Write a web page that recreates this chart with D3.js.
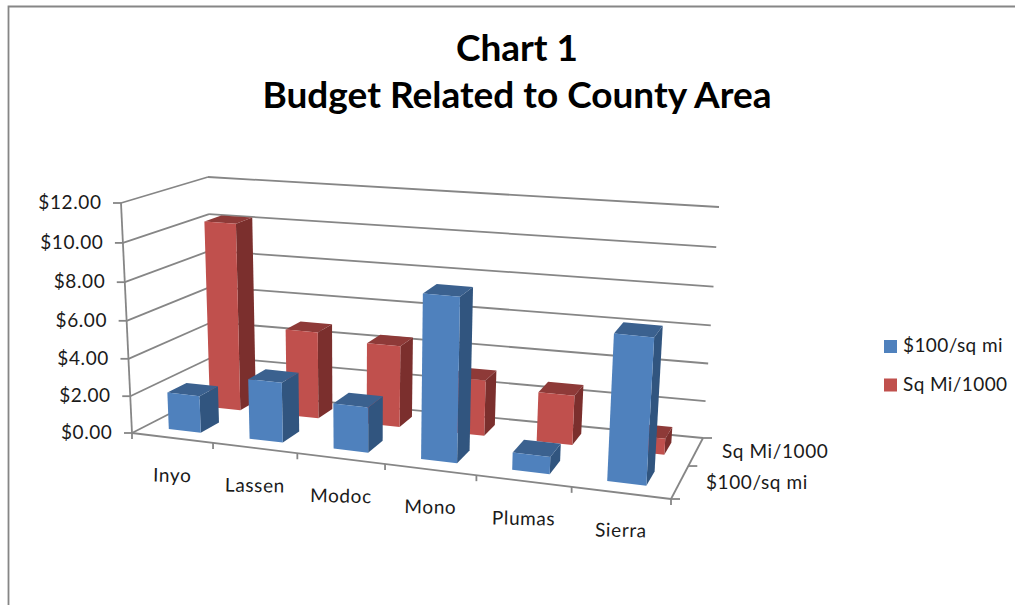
<!DOCTYPE html>
<html>
<head>
<meta charset="utf-8">
<style>
  html, body { margin: 0; padding: 0; background: #fff; }
  svg { display: block; }
  text { fill: #1a1a1a; }
</style>
<script src="https://cdn.jsdelivr.net/npm/d3@7/dist/d3.min.js"></script>
</head>
<body>
<svg id="chart" width="1015" height="605"></svg>
<script>
// County figures
const counties = ["Inyo", "Lassen", "Modoc", "Mono", "Plumas", "Sierra"];
const seriesNames = ["$100/sq mi", "Sq Mi/1000"];
const dollarsPerSqMi = [2.0, 3.2, 2.4, 8.5, 0.9, 7.4];
const sqMiThousands = [10.2, 4.75, 4.4, 3.0, 2.65, 0.85];
const valueTicks = [0, 2, 4, 6, 8, 10, 12];
const titleLines = ["Chart 1", "Budget Related to County Area"];

const seriesValues = [dollarsPerSqMi, sqMiThousands];
const faceColors = [
  { front: "#4f81bd", side: "#31557f", top: "#3b618f" },
  { front: "#c0504d", side: "#7b2f2d", top: "#8e3a38" }
];
const axisColor = "#868686";
const svg = d3.select("#chart");

// Unit-cube scales: x runs along the categories, y up the values, z from front to back.
const xBand = d3.scaleBand().domain(counties).range([0, 1]).paddingInner(0.6).paddingOuter(0.3);
const xCell = d3.scaleBand().domain(counties).range([0, 1]);
const zBand = d3.scaleBand().domain(seriesNames).range([0, 1]).paddingInner(0.56).paddingOuter(0.28);
const zCell = d3.scaleBand().domain(seriesNames).range([0, 1]);
const yValue = d3.scaleLinear().domain([0, 12]).range([0, 1]);

// Screen position of the eight corners of the plot box.
const box = {
  frontLeft:  { low: [132, 433], high: [121, 203] },
  backLeft:   { low: [214, 391], high: [208, 177] },
  backRight:  { low: [703, 438], high: [719, 207] },
  frontRight: { low: [671, 499], high: [685, 250] }
};
// Perspective foreshortening along each axis of the box.
const warp = (t, w) => t / (t + w * (1 - t));
const mix = (a, b, t) => [a[0] + (b[0] - a[0]) * t, a[1] + (b[1] - a[1]) * t];

function project(x, y, z) {
  const u = warp(x, 1.13), v = warp(z, 0.85), h = warp(y, 1.05);
  const low = mix(mix(box.frontLeft.low, box.frontRight.low, u), mix(box.backLeft.low, box.backRight.low, u), v);
  const high = mix(mix(box.frontLeft.high, box.frontRight.high, u), mix(box.backLeft.high, box.backRight.high, u), v);
  return mix(low, high, h);
}
const pathOf = pts => "M" + pts.map(p => p.map(n => n.toFixed(2)).join(",")).join("L") + "Z";
const lineOf = (a, b) => ({ x1: a[0], y1: a[1], x2: b[0], y2: b[1] });
function drawLines(group, data) {
  group.selectAll("line").data(data).join("line")
    .attr("x1", d => d.x1).attr("y1", d => d.y1)
    .attr("x2", d => d.x2).attr("y2", d => d.y2)
    .attr("stroke", axisColor).attr("stroke-width", 1.8);
}

// Page edge rules
svg.append("path").attr("d", "M8.5,605V6.5H1015").attr("fill", "none")
  .attr("stroke", "#868686").attr("stroke-width", 1.8);

// Title
svg.append("g").attr("font-family", "Lato, sans-serif").attr("font-weight", 700).attr("font-size", 37)
  .selectAll("text").data(titleLines).join("text")
  .attr("x", 517).attr("y", (d, i) => 61 + i * 47)
  .attr("text-anchor", "middle").style("fill", "#000").text(d => d);

// Gridlines on the side wall and back wall, plus the value axis with its ticks.
const grid = svg.append("g");
const gridLines = [];
valueTicks.forEach(v => {
  const yv = yValue(v);
  gridLines.push(lineOf(project(0, yv, 0), project(0, yv, 1)));
  gridLines.push(lineOf(project(0, yv, 1), project(1, yv, 1)));
  const p = project(0, yv, 0);
  gridLines.push(lineOf([p[0] - 8, p[1]], p));
});
gridLines.push(lineOf(project(0, 0, 0), project(0, 1, 0)));
// Floor edges
gridLines.push(lineOf(project(0, 0, 0), project(1, 0, 0)));
gridLines.push(lineOf(project(1, 0, 0), project(1, 0, 1)));
// Category ticks
d3.range(counties.length + 1).forEach(i => {
  const p = project(i / counties.length, 0, 0);
  gridLines.push(lineOf(p, [p[0], p[1] + 6]));
});
// Depth ticks
d3.range(seriesNames.length + 1).forEach(i => {
  const p = project(1, 0, i / seriesNames.length);
  gridLines.push(lineOf(p, [p[0] + 9, p[1]]));
});
drawLines(grid, gridLines);

// Value axis labels
const labelFont = "Lato, sans-serif";
const moneyFormat = d3.format("$.2f");
svg.append("g").attr("font-family", labelFont).attr("font-size", 19).attr("letter-spacing", 0.6)
  .selectAll("text").data(valueTicks).join("text")
  .attr("x", v => project(0, yValue(v), 0)[0] - 19.5)
  .attr("y", v => project(0, yValue(v), 0)[1] + 6)
  .attr("text-anchor", "end").text(v => moneyFormat(v));

// Bars: back row first, so the front row paints over it.
const barRecords = [];
[1, 0].forEach(s => counties.forEach((c, i) => {
  barRecords.push({ county: c, series: seriesNames[s], s, value: seriesValues[s][i] });
}));
const bars = svg.append("g").selectAll("g").data(barRecords).join("g");
bars.each(function (d) {
  const g = d3.select(this);
  const x0 = xBand(d.county), x1 = x0 + xBand.bandwidth();
  const z0 = zBand(d.series), z1 = z0 + zBand.bandwidth();
  const y0 = yValue(0), y1 = yValue(d.value);
  const c = faceColors[d.s];
  g.append("path").attr("fill", c.side)
    .attr("d", pathOf([project(x1, y0, z0), project(x1, y0, z1), project(x1, y1, z1), project(x1, y1, z0)]));
  g.append("path").attr("fill", c.top)
    .attr("d", pathOf([project(x0, y1, z0), project(x1, y1, z0), project(x1, y1, z1), project(x0, y1, z1)]));
  g.append("path").attr("fill", c.front)
    .attr("d", pathOf([project(x0, y0, z0), project(x1, y0, z0), project(x1, y1, z0), project(x0, y1, z0)]));
});

// Category labels beneath the front edge
svg.append("g").attr("font-family", labelFont).attr("font-size", 19).attr("letter-spacing", 0.6)
  .selectAll("text").data(counties).join("text")
  .attr("transform", d => {
    const p = project(xCell(d) + xCell.bandwidth() / 2, 0, 0);
    return `translate(${p[0]},${p[1] + 44}) rotate(1)`;
  })
  .attr("text-anchor", "middle").text(d => d);

// Depth axis labels
svg.append("g").attr("font-family", labelFont).attr("font-size", 19).attr("letter-spacing", 0.6)
  .selectAll("text").data(seriesNames).join("text")
  .attr("x", d => project(1, 0, zCell(d) + zCell.bandwidth() / 2)[0] + 26)
  .attr("y", d => project(1, 0, zCell(d) + zCell.bandwidth() / 2)[1] + 7)
  .text(d => d);

// Legend
const legend = svg.append("g").selectAll("g").data(seriesNames).join("g")
  .attr("transform", (d, i) => `translate(884,${340 + i * 38.5})`);
legend.append("rect").attr("width", 13).attr("height", 13)
  .attr("fill", (d, i) => faceColors[i].front);
legend.append("text").attr("x", 19).attr("y", 12)
  .attr("font-family", labelFont).attr("font-size", 19).attr("letter-spacing", 0.4)
  .text(d => d);
</script>
</body>
</html>
